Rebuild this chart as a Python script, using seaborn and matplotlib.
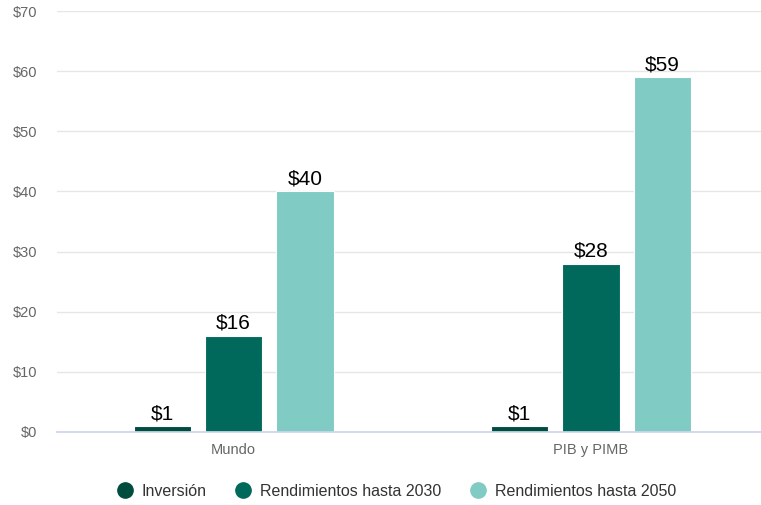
import pandas as pd
import matplotlib.pyplot as plt
from matplotlib.lines import Line2D
import seaborn as sns

categorias = ["Mundo", "PIB y PIMB"]
series = ["Inversión", "Rendimientos hasta 2030", "Rendimientos hasta 2050"]
inversion = [1, 1]
hasta_2030 = [16, 28]
hasta_2050 = [40, 59]
colores = ["#004d40", "#00695c", "#80cbc4"]

df = pd.DataFrame({
    "categoria": categorias * 3,
    "serie": [s for s in series for _ in categorias],
    "valor": inversion + hasta_2030 + hasta_2050,
})

sns.set_theme(style="white")
plt.rcParams["font.family"] = ["Liberation Sans", "DejaVu Sans"]

fig = plt.figure(figsize=(7.61, 5.05), dpi=100)
ax = fig.add_axes([0.075, 0.1446, 0.925, 0.8336])

sns.barplot(data=df, x="categoria", y="valor", hue="serie", palette=colores,
            width=0.6, gap=0.2, saturation=1, ax=ax, legend=False,
            edgecolor="white", linewidth=0.8)

for cont in ax.containers:
    ax.bar_label(cont, labels=[f"${v:.0f}" for v in cont.datavalues],
                 fontsize=15, color="black", padding=2)

ax.set_ylim(0, 70)
ax.set_xlim(-0.494, 1.476)
ax.set_yticks(range(0, 71, 10))
ax.set_yticklabels([f"${v}" for v in range(0, 71, 10)])
ax.yaxis.grid(True, color="#e6e6e6", linewidth=1)
ax.set_axisbelow(True)
for s in ["top", "right", "left"]:
    ax.spines[s].set_visible(False)
ax.spines["bottom"].set_color("#ccd6eb")
ax.tick_params(axis="y", labelsize=10.5, colors="#666666", length=0, pad=14)
ax.tick_params(axis="x", labelsize=10.5, colors="#666666", length=0, pad=8)
ax.set_xlabel("")
ax.set_ylabel("")

handles = [Line2D([], [], marker="o", linestyle="", markersize=11,
                  markerfacecolor=c, markeredgecolor=c) for c in colores]
fig.legend(handles, series, loc="center", bbox_to_anchor=(0.518, 0.027),
           ncol=3, frameon=False, fontsize=11.5, handletextpad=0.25,
           handlelength=1.6, columnspacing=1.5, labelcolor="#333333")

fig.savefig("out.png", dpi=100)
